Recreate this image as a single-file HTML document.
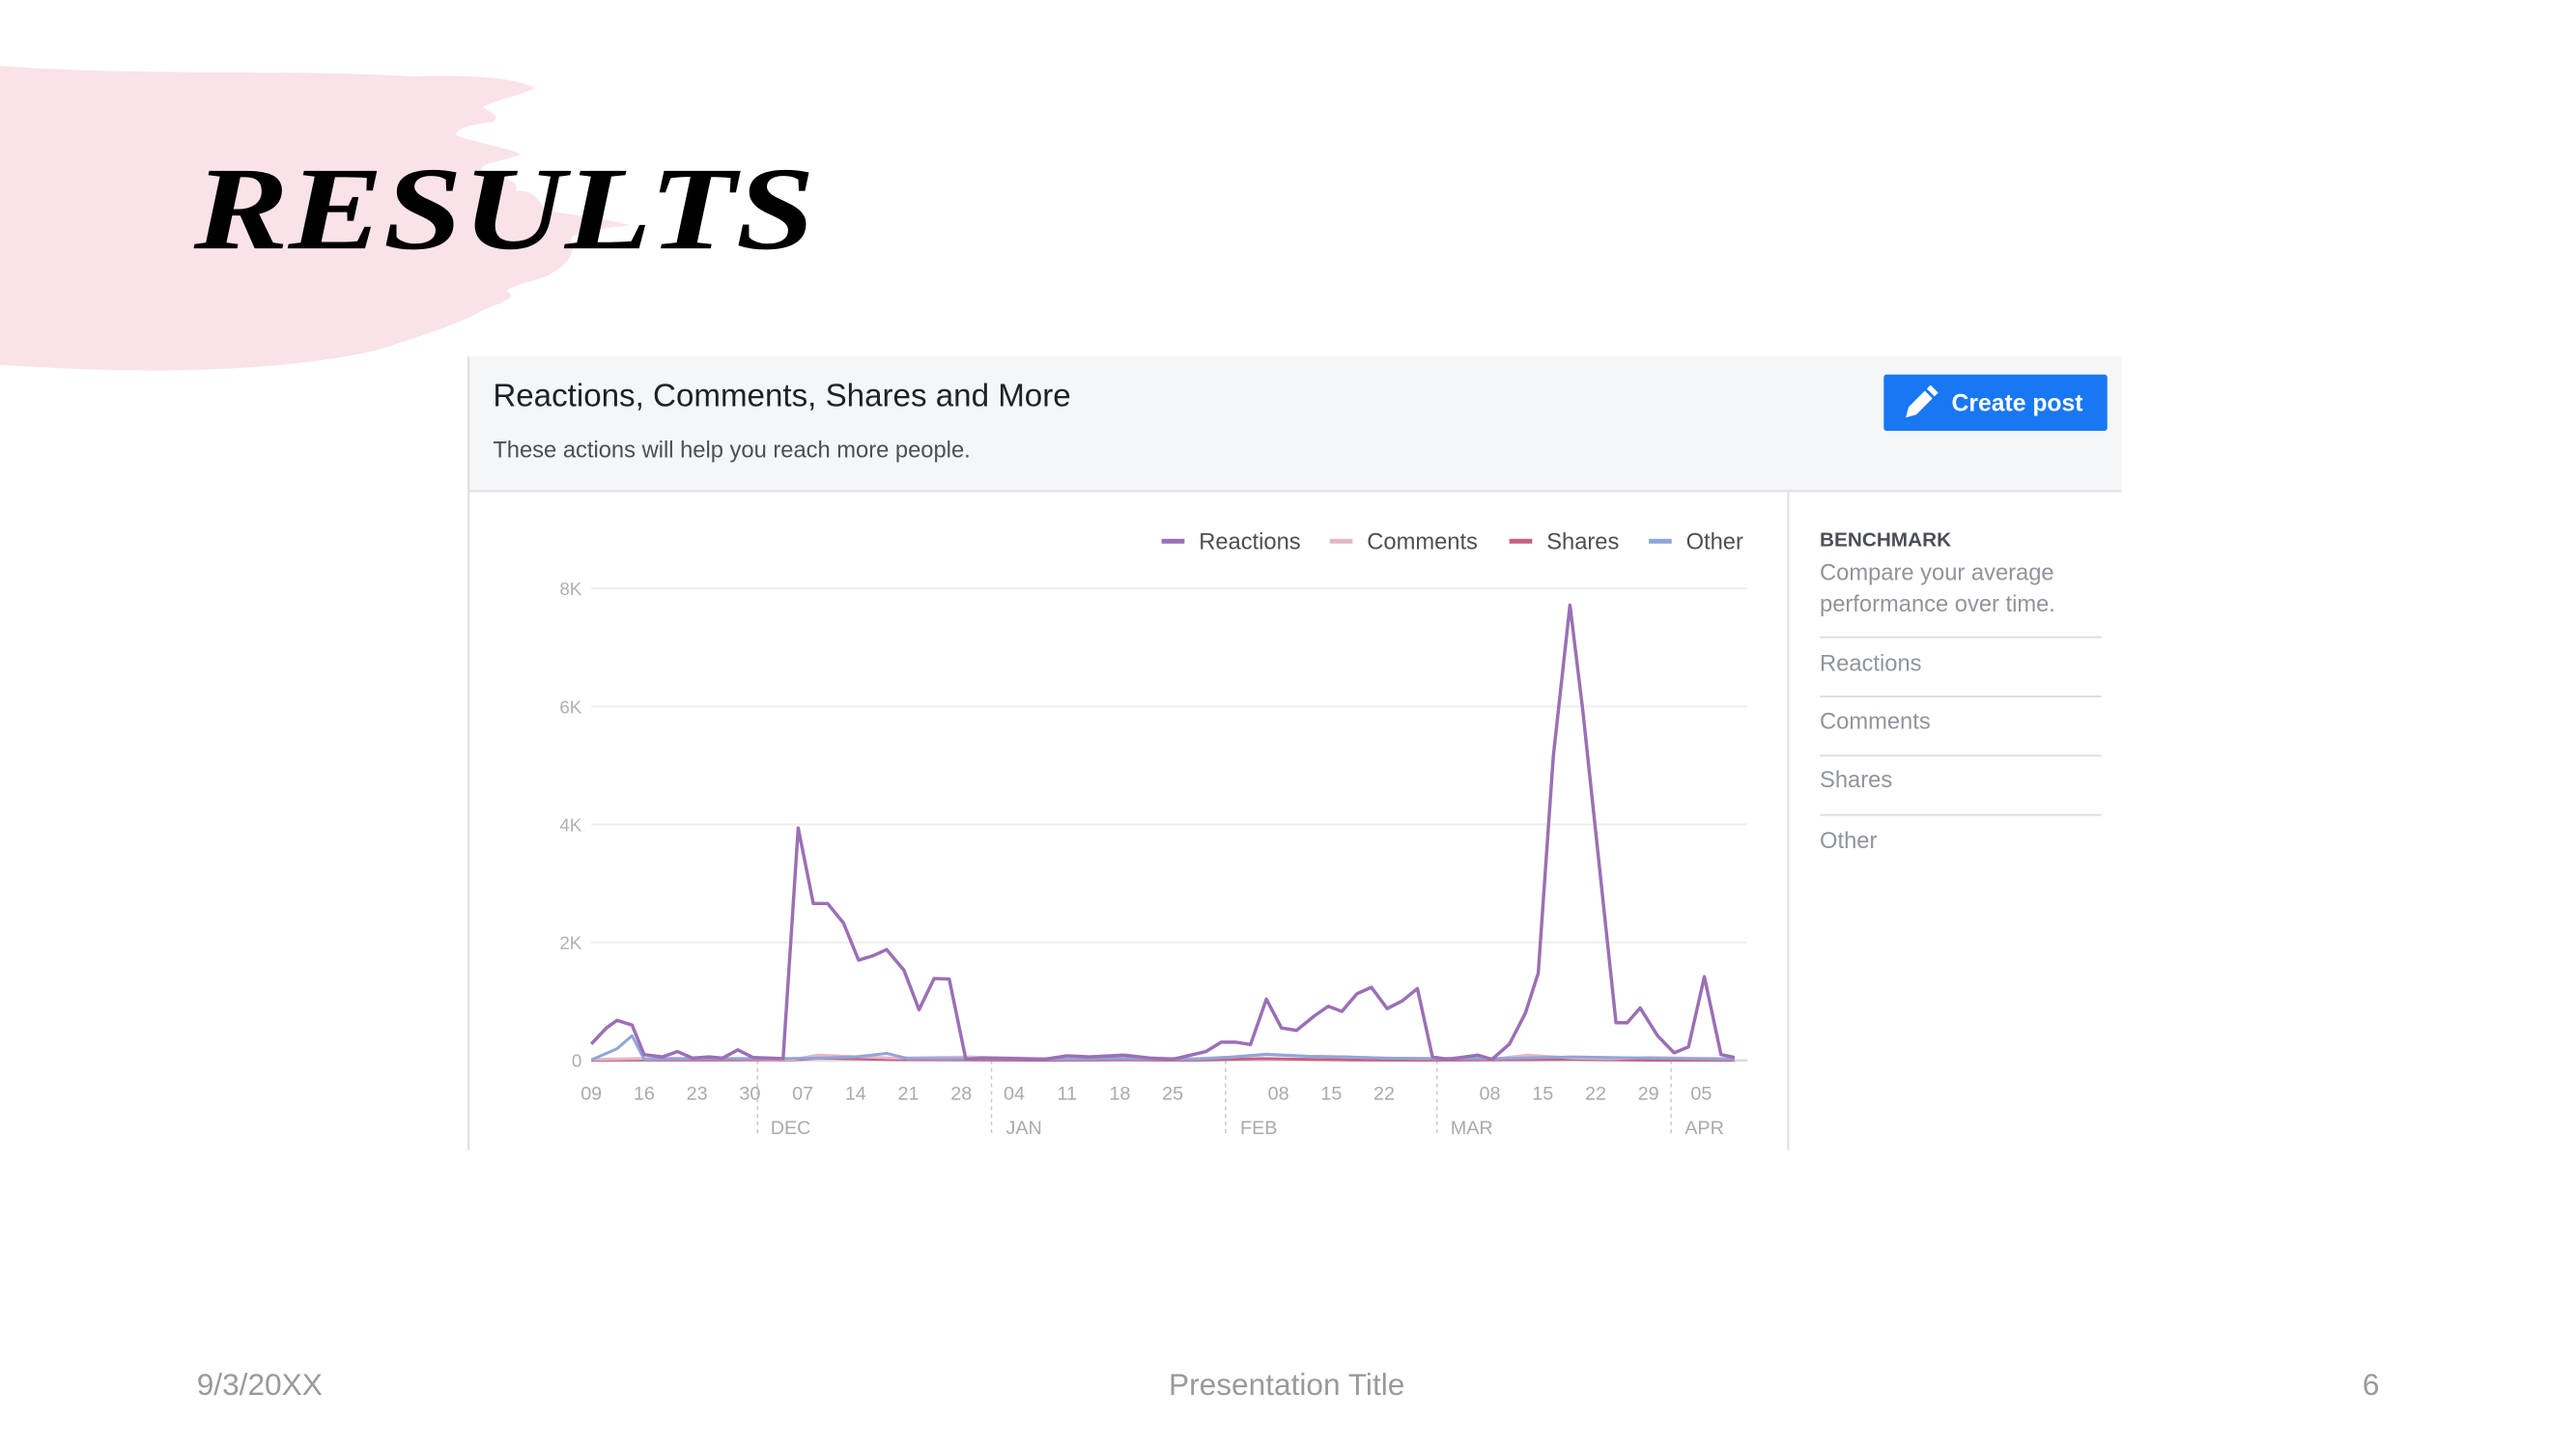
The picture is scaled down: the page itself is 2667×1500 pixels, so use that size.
<!DOCTYPE html>
<html><head><meta charset="utf-8"><style>
html,body{margin:0;padding:0;background:#fff;}
body{width:2667px;height:1500px;position:relative;overflow:hidden;font-family:"Liberation Sans",sans-serif;}
svg{position:absolute;left:0;top:0;}
</style></head><body>
<svg id="slide" width="2667" height="1500" viewBox="0 0 2667 1500">
 <g transform="scale(0.989)">
  <path fill="#f9e2e8" d="M0,69 C150,80 300,72 430,80 C500,78 540,82 560,92 C545,100 520,104 505,112 C515,118 525,122 515,128 C490,130 475,136 478,142 C500,150 535,155 545,162 C520,170 500,172 505,178 C525,184 545,190 540,200 C555,198 565,208 570,220 C600,225 640,230 660,236 C610,240 590,246 600,256 C600,270 590,280 570,290 C550,296 535,300 530,305 C545,312 520,318 505,325 C480,340 430,355 400,365 C300,390 150,392 0,382 Z"/>
  <text x="203" y="260" textLength="650" lengthAdjust="spacingAndGlyphs" font-family="Liberation Serif, serif" font-weight="bold" font-style="italic" font-size="124" fill="#000">RESULTS</text>

  <g>
    <rect x="490" y="373" width="1731" height="831" fill="#fff"/>
    <rect x="490" y="373" width="1731" height="141" fill="#f5f6f7"/>
    <line x1="490.5" y1="373" x2="490.5" y2="1204" stroke="#dddfe2" stroke-width="2"/>
    <line x1="490" y1="514" x2="2221" y2="514" stroke="#dddfe2" stroke-width="2"/>
    <text x="516" y="425" font-size="33.5" fill="#1d2129">Reactions, Comments, Shares and More</text>
    <text x="516" y="479" font-size="24" fill="#4b4f56">These actions will help you reach more people.</text>
    <g>
      <rect x="1972" y="392" width="234" height="59" rx="3" fill="#1877f2"/>
      <path d="M1995,437 l3,-11 l17,-17 l8,8 l-17,17 z M2017,407 l4,-4 l8,8 l-4,4 z" fill="#fff"/>
      <text x="2043" y="430" font-size="25" font-weight="bold" fill="#fff">Create post</text>
    </g>
    <line x1="1872" y1="514" x2="1872" y2="1204" stroke="#dddfe2" stroke-width="2"/>
    <text x="1905" y="572" font-size="21" font-weight="bold" fill="#4b4f56">BENCHMARK</text>
    <text x="1905" y="607" font-size="24" fill="#90949c">Compare your average</text>
    <text x="1905" y="640" font-size="24" fill="#90949c">performance over time.</text>
    <line x1="1905" y1="667" x2="2200" y2="667" stroke="#dddfe2" stroke-width="2"/>
    <text x="1905" y="702" font-size="24" fill="#90949c">Reactions</text>
    <line x1="1905" y1="729" x2="2200" y2="729" stroke="#dddfe2" stroke-width="2"/>
    <text x="1905" y="763" font-size="24" fill="#90949c">Comments</text>
    <line x1="1905" y1="791" x2="2200" y2="791" stroke="#dddfe2" stroke-width="2"/>
    <text x="1905" y="824" font-size="24" fill="#90949c">Shares</text>
    <line x1="1905" y1="853" x2="2200" y2="853" stroke="#dddfe2" stroke-width="2"/>
    <text x="1905" y="888" font-size="24" fill="#90949c">Other</text>
  </g>
  <g id="chart"></g>

  <text x="206" y="1460" font-size="32" fill="#9a9a9a">9/3/20XX</text>
  <text x="1347" y="1460" text-anchor="middle" font-size="32" fill="#9a9a9a">Presentation Title</text>
  <text x="2482" y="1460" text-anchor="middle" font-size="32" fill="#9a9a9a">6</text>
 </g>
</svg>
<script>
// ---- chart data ----
const yTicks = [0, 2000, 4000, 6000, 8000];
const yTickLabels = ["0", "2K", "4K", "6K", "8K"];
const xTickDays = [0,7,14,21,28,35,42,49,56,63,70,77,91,98,105,119,126,133,140,147];
const xTickLabels = ["09","16","23","30","07","14","21","28","04","11","18","25","08","15","22","08","15","22","29","05"];
const monthDividerDays = [22, 53, 84, 112, 143];
const monthLabelDays = [26.4, 57.3, 88.4, 116.6, 147.4];
const monthLabels = ["DEC","JAN","FEB","MAR","APR"];
const seriesNames = ["Reactions","Comments","Shares","Other"];
const seriesColors = ["#9b6fb5","#e3b7c8","#c9607f","#8fa5da"];
const reactionDays = [0,2,3.4,5.4,7,9.4,11.4,13.4,15.6,17.4,19.4,21.4,25.4,27.4,29.4,31.3,33.4,35.4,37.4,39.1,41.4,43.4,45.4,47.4,49.6,51.7,56,60,63,66,70.5,74,77,81.4,83.4,85.4,87.3,89.4,91.4,93.4,95.7,97.6,99.4,101.4,103.3,105.4,107.4,109.4,111.4,113.4,117.4,119.3,121.6,123.7,125.4,127.4,129.6,131.3,135.7,137.2,138.9,141.2,143.4,145.3,147.4,149.6,151.4];
const reactionValues = [280,550,680,600,100,60,150,40,60,40,180,50,30,3940,2660,2660,2330,1700,1780,1880,1530,860,1390,1380,20,40,30,20,80,60,90,40,20,150,310,310,270,1040,550,510,750,920,830,1130,1240,880,1010,1220,60,20,90,20,280,800,1480,5160,7720,5940,640,640,890,420,130,230,1420,100,50];
const commentDays = [0,10,20,27,30,40,50,60,70,80,85,89.4,95,100,105,110,115,120,124,130,135,140,145,151.4];
const commentValues = [20,40,30,20,90,40,60,30,50,30,60,110,70,60,40,30,40,30,90,40,30,50,40,30];
const shareDays = [0,20,27,30,40,50,60,70,80,89,95,100,110,120,130,140,151.4];
const shareValues = [5,10,10,40,15,10,5,10,5,30,20,10,5,10,20,5,5];
const otherDays = [0,3.4,5.4,7,15,25,30,35,39.1,42,50,60,70,80,85,89.4,95,100,105,112,120,130,140,151.4];
const otherValues = [10,200,420,20,30,30,40,60,120,30,30,20,30,20,60,100,70,60,40,30,30,60,40,20];

// ---- axes ----
const X0 = 619, PX_PER_DAY = (1781 - 619) / 147;
const Y0 = 1110, Y8K = 616;
const xScale = d => X0 + d * PX_PER_DAY;
const yScale = v => Y0 - (v / 8000) * (Y0 - Y8K);
const NS = "http://www.w3.org/2000/svg";
const chart = document.getElementById("chart");
function mk(tag, attrs, parent) {
  const el = document.createElementNS(NS, tag);
  for (const k in attrs) el.setAttribute(k, attrs[k]);
  (parent || chart).appendChild(el);
  return el;
}
yTicks.forEach((v, i) => {
  const g = mk("line", {x1: X0, x2: 1829, y1: yScale(v), y2: yScale(v), stroke: i === 0 ? "#d5d5d5" : "#eeeeee", "stroke-width": 2});
  
  
  const t = mk("text", {x: 609, y: yScale(v) + 7, "text-anchor": "end", "font-size": 19, fill: "#b0b0b0"});
  t.textContent = yTickLabels[i];
  
  
});
xTickDays.forEach((d, i) => {
  const t = mk("text", {x: xScale(d), y: 1151, "text-anchor": "middle", "font-size": 20, fill: "#aaaaaa"});
  t.textContent = xTickLabels[i];
  
  
});
monthDividerDays.forEach(d => {
  const l = mk("line", {x1: xScale(d), x2: xScale(d), y1: Y0, y2: 1186, stroke: "#c8c8c8", "stroke-width": 1.5, "stroke-dasharray": "4,4"});
  
  
});
monthLabelDays.forEach((d, i) => {
  const t = mk("text", {x: xScale(d), y: 1187, "text-anchor": "middle", "font-size": 20, fill: "#aaaaaa"});
  t.textContent = monthLabels[i];
  
  
});
function drawSeries(days, vals, color, name, w) {
  const pts = days.map((d, i) => xScale(d).toFixed(1) + "," + yScale(vals[i]).toFixed(1)).join(" ");
  const p = mk("polyline", {points: pts, fill: "none", stroke: color, "stroke-width": w, "stroke-linejoin": "round"});
  
  
}
drawSeries(shareDays, shareValues, seriesColors[2], "shares-line", 3);
drawSeries(commentDays, commentValues, seriesColors[1], "comments-line", 3);
drawSeries(otherDays, otherValues, seriesColors[3], "other-line", 3);
drawSeries(reactionDays, reactionValues, seriesColors[0], "reactions-line", 3.5);

// legend
const legendX = [1216, 1392, 1580, 1726];
seriesNames.forEach((n, i) => {
  const r = mk("rect", {x: legendX[i], y: 564, width: 24, height: 5, fill: seriesColors[i]});
  
  
  const t = mk("text", {x: legendX[i] + 39, y: 575, "font-size": 24, fill: "#4b4f56"});
  t.textContent = n;
  
  
});
</script>
</body></html>
